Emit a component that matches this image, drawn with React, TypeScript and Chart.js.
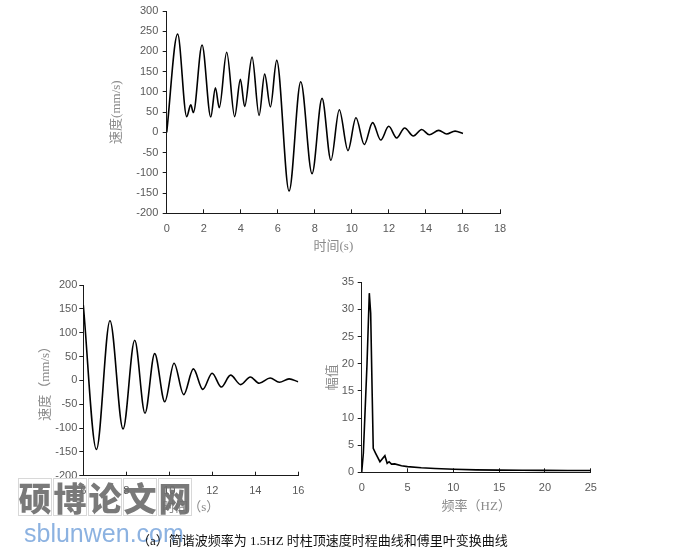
import React, { useEffect, useRef } from 'react';
import { Chart, registerables } from 'chart.js';

Chart.register(...registerables);

// ---------- data ----------
// top chart: column-top velocity time history (s, mm/s)
const timeTop = [0, 0.59, 1.08, 1.3, 1.44, 1.91, 2.38, 2.63, 2.84, 3.24, 3.67, 3.98, 4.21, 4.61, 4.99, 5.29, 5.6, 5.94, 6.61, 7.24, 7.85, 8.39, 8.87, 9.32, 9.79, 10.22, 10.67, 11.12, 11.56, 11.99, 12.42, 12.85, 13.32, 13.77, 14.18, 14.69, 15.12, 15.57, 16.0];
const velTop = [0, 243, 39, 68, 49, 216, 38, 110, 61, 198, 39, 131, 64, 186, 42, 144, 63, 178, -145, 125, -102, 84, -69, 56, -45, 36, -30, 24, -19, 15, -14, 11, -9, 7, -6, 5, -4, 3, -3];

// bottom-left chart: free-vibration part (starts at 6 s)
const detailStartTime = 6.0;
const detailStartVel = 158;

// bottom-right chart: Fourier amplitude spectrum
const freq = [0, 0.18, 0.36, 0.58, 0.83, 0.98, 1.15, 1.26, 1.52, 1.99, 2.53, 2.78, 2.99, 3.25, 3.6, 4.34, 5.0, 6.5, 8.0, 10.06, 12.5, 15, 17.5, 20, 22.5, 25];
const amp = [0, 3.5, 10.9, 20, 33, 29.3, 13.9, 4.4, 3.5, 1.95, 3.06, 1.66, 1.95, 1.5, 1.55, 1.2, 1.05, 0.84, 0.7, 0.55, 0.45, 0.4, 0.38, 0.36, 0.34, 0.32];

// axis ranges / tick steps
const topX = { min: 0, max: 18, step: 2 };
const topY = { min: -200, max: 300, step: 50 };
const detailX = { min: 6, max: 16, step: 2 };
const detailY = { min: -200, max: 200, step: 50 };
const fftX = { min: 0, max: 25, step: 5 };
const fftY = { min: 0, max: 35, step: 5 };

// texts
const topXTitle = '时间(s)';
const topYTitle = '速度(mm/s)';
const detailXTitle = '时间（s）';
const detailYTitle = '速度（mm/s）';
const fftXTitle = '频率（HZ）';
const fftYTitle = '幅值';
const caption = '（a）简谐波频率为 1.5HZ 时柱顶速度时程曲线和傅里叶变换曲线';
const watermarkChars = ['硕', '博', '论', '文', '网'];
const watermarkUrl = 'sblunwen.com';

// ---------- styling ----------
const TICK_FONT = { family: '"Liberation Sans", "DejaVu Sans", sans-serif', size: 11 };
const TITLE_FONT = { family: '"Liberation Serif", "Noto Sans CJK SC", serif', size: 13 };
const TICK_COLOR = '#595959';
const TITLE_COLOR = '#8a8a8a';
const AXIS_COLOR = '#1a1a1a';

type Layout = {
  width: number;
  height: number;
  padTop: number;
  padRight: number;
  yAxisW: number;
  xAxisH: number;
  xTickPad: number;
  yTickPad: number;
  xTitlePad: number;
  yTitlePad: number;
};

function makeConfig(
  points: { x: number; y: number }[],
  xr: { min: number; max: number; step: number },
  yr: { min: number; max: number; step: number },
  xTitle: string,
  yTitle: string,
  lay: Layout,
  smooth: boolean
): any {
  return {
    type: 'line',
    data: {
      datasets: [
        {
          data: points,
          borderColor: '#000',
          borderWidth: 1.6,
          pointRadius: 0,
          fill: false,
          tension: smooth ? 0.4 : 0,
          cubicInterpolationMode: smooth ? 'monotone' : 'default',
        },
      ],
    },
    options: {
      responsive: false,
      animation: false,
      devicePixelRatio: 1,
      layout: { padding: { top: lay.padTop, right: lay.padRight, left: 0, bottom: 0 } },
      plugins: { legend: { display: false }, tooltip: { enabled: false }, title: { display: false } },
      scales: {
        x: {
          type: 'linear',
          min: xr.min,
          max: xr.max,
          ticks: {
            stepSize: xr.step,
            color: TICK_COLOR,
            font: TICK_FONT,
            padding: lay.xTickPad,
            maxRotation: 0,
            autoSkip: false,
            includeBounds: true,
          },
          grid: {
            display: true,
            drawOnChartArea: false,
            drawTicks: true,
            tickLength: -4,
            color: AXIS_COLOR,
            tickColor: AXIS_COLOR,
            lineWidth: 1,
          },
          border: { display: true, color: AXIS_COLOR, width: 1 },
          title: {
            display: true,
            text: xTitle,
            color: TITLE_COLOR,
            font: TITLE_FONT,
            padding: { top: 0, bottom: lay.xTitlePad },
          },
          afterFit: (s: any) => {
            s.height = lay.xAxisH;
          },
        },
        y: {
          type: 'linear',
          min: yr.min,
          max: yr.max,
          ticks: {
            stepSize: yr.step,
            color: TICK_COLOR,
            font: TICK_FONT,
            padding: lay.yTickPad,
            autoSkip: false,
          },
          grid: {
            display: true,
            drawOnChartArea: false,
            drawTicks: true,
            tickLength: 4,
            color: AXIS_COLOR,
            tickColor: AXIS_COLOR,
            lineWidth: 1,
          },
          border: { display: true, color: AXIS_COLOR, width: 1 },
          title: {
            display: true,
            text: yTitle,
            color: TITLE_COLOR,
            font: TITLE_FONT,
            padding: { top: lay.yTitlePad, bottom: 0 },
          },
          afterFit: (s: any) => {
            s.width = lay.yAxisW;
          },
        },
      },
    },
  };
}

function ChartBox(props: { left: number; top: number; lay: Layout; build: () => any }) {
  const ref = useRef<HTMLCanvasElement | null>(null);
  useEffect(() => {
    if (!ref.current) return;
    const chart = new Chart(ref.current, props.build());
    return () => chart.destroy();
  }, []);
  return (
    <canvas
      ref={ref}
      width={props.lay.width}
      height={props.lay.height}
      style={{
        position: 'absolute',
        left: props.left,
        top: props.top,
        width: props.lay.width,
        height: props.lay.height,
      }}
    />
  );
}

const topLayout: Layout = {
  width: 420, height: 260, padTop: 8.3, padRight: 20, yAxisW: 66.7, xAxisH: 46.7,
  xTickPad: 13.4, yTickPad: 4.4, xTitlePad: 5.5, yTitlePad: 8.9,
};
const detailLayout: Layout = {
  width: 290, height: 250, padTop: 15, padRight: 21.7, yAxisW: 53.3, xAxisH: 44.3,
  xTickPad: 12.4, yTickPad: 2, xTitlePad: 4.2, yTitlePad: 8.2,
};
const fftLayout: Layout = {
  width: 300, height: 250, padTop: 12.3, padRight: 17.7, yAxisW: 51.7, xAxisH: 47.7,
  xTickPad: 13.1, yTickPad: 3.7, xTitlePad: 5.2, yTitlePad: 15.2,
};

function buildTop() {
  const pts = timeTop.map((t, i) => ({ x: t, y: velTop[i] }));
  return makeConfig(pts, topX, topY, topXTitle, topYTitle, topLayout, true);
}

function buildDetail() {
  const pts = [{ x: detailStartTime, y: detailStartVel }];
  timeTop.forEach((t, i) => {
    if (t > detailStartTime) pts.push({ x: t, y: velTop[i] });
  });
  return makeConfig(pts, detailX, detailY, detailXTitle, detailYTitle, detailLayout, true);
}

function buildFft() {
  const pts = freq.map((f, i) => ({ x: f, y: amp[i] }));
  return makeConfig(pts, fftX, fftY, fftXTitle, fftYTitle, fftLayout, false);
}

export default function App() {
  return (
    <div
      style={{
        position: 'absolute',
        left: 0,
        top: 0,
        width: 682,
        height: 552,
        background: '#fff',
        overflow: 'hidden',
      }}
    >
      <ChartBox left={100} top={0} lay={topLayout} build={buildTop} />
      <ChartBox left={30} top={270} lay={detailLayout} build={buildDetail} />
      <ChartBox left={310} top={270} lay={fftLayout} build={buildFft} />

      {/* watermark */}
      <div style={{ position: 'absolute', left: 18, top: 478, display: 'flex', gap: 1 }}>
        {watermarkChars.map((c) => (
          <div
            key={c}
            style={{
              width: 34,
              height: 38,
              border: '1px solid #d8d8d8',
              boxSizing: 'border-box',
              display: 'flex',
              alignItems: 'center',
              justifyContent: 'center',
              fontFamily: '"Noto Sans CJK SC", sans-serif',
              fontWeight: 900,
              fontSize: 33,
              lineHeight: '38px',
              color: 'rgba(110,110,110,0.92)',
            }}
          >
            {c}
          </div>
        ))}
      </div>
      <div
        style={{
          position: 'absolute',
          left: 24,
          top: 518,
          fontFamily: '"Liberation Sans", Arial, sans-serif',
          fontSize: 25,
          lineHeight: '30px',
          color: 'rgba(120,165,220,0.85)',
          whiteSpace: 'nowrap',
        }}
      >
        {watermarkUrl}
      </div>

      {/* caption */}
      <div
        style={{
          position: 'absolute',
          left: 137,
          top: 532,
          fontFamily: '"Liberation Serif", "Noto Sans CJK SC", serif',
          fontSize: 13,
          lineHeight: '18px',
          color: '#111',
          whiteSpace: 'nowrap',
        }}
      >
        {caption}
      </div>
    </div>
  );
}
